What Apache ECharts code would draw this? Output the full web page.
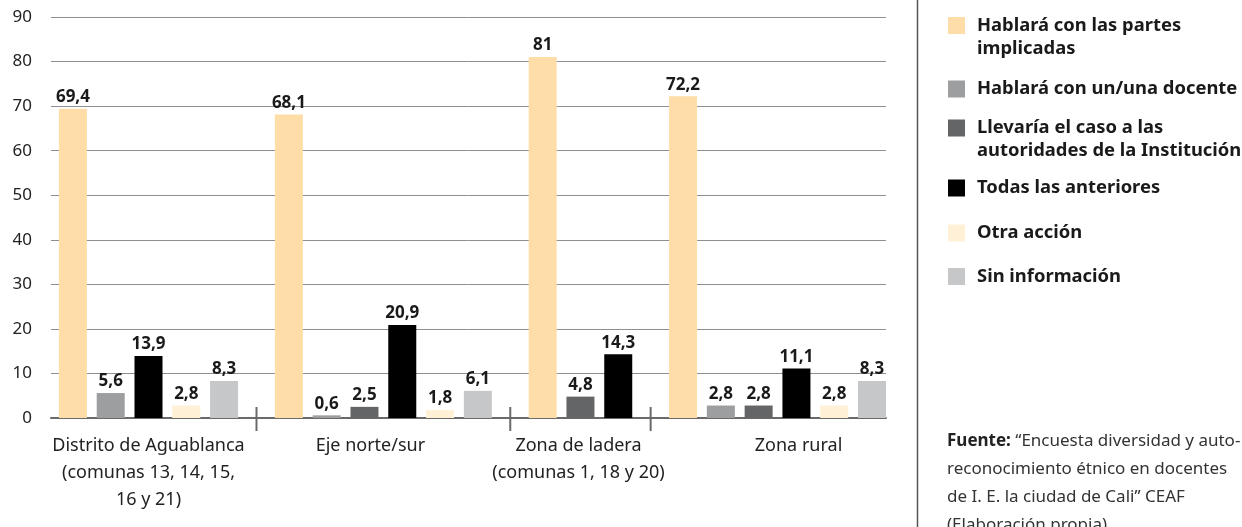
<!DOCTYPE html>
<html><head><meta charset="utf-8">
<script src="https://cdn.jsdelivr.net/npm/echarts@6/dist/echarts.min.js"></script>
<style>html,body{margin:0;padding:0;background:#fff}#c{width:1242px;height:527px}</style>
</head><body><div id="c"></div>
<script>
// ---- data ----
const categories = ['Distrito de Aguablanca\n(comunas 13, 14, 15,\n16 y 21)', 'Eje norte/sur', 'Zona de ladera\n(comunas 1, 18 y 20)', 'Zona rural'];
const seriesNames = ['Hablará con las partes implicadas', 'Hablará con un/una docente', 'Llevaría el caso a las autoridades de la Institución', 'Todas las anteriores', 'Otra acción', 'Sin información'];
const legendLabels = ['Hablará con las partes\nimplicadas', 'Hablará con un/una docente', 'Llevaría el caso a las\nautoridades de la Institución', 'Todas las anteriores', 'Otra acción', 'Sin información'];
const hablaraPartes   = [69.4, 68.1, 81, 72.2];
const hablaraDocente  = [5.6, 0.6, null, 2.8];
const llevariaCaso    = [null, 2.5, 4.8, 2.8];
const todasAnteriores = [13.9, 20.9, 14.3, 11.1];
const otraAccion      = [2.8, 1.8, null, 2.8];
const sinInformacion  = [8.3, 6.1, null, 8.3];
const yMin = 0, yMax = 90, yStep = 10;
const sourceText = '{b|Fuente:} “Encuesta diversidad y auto-\nreconocimiento étnico en docentes\nde I. E. la ciudad de Cali” CEAF\n(Elaboración propia)';

// ---- styles / layout ----
const colors = ['#FEDDA8', '#9D9EA0', '#646567', '#000000', '#FFF0D6', '#C6C7C9'];
const FONT = 'Noto Sans';
const allSeries = [hablaraPartes, hablaraDocente, llevariaCaso, todasAnteriores, otraAccion, sinInformacion];
const GROUP_GAP = 1.715;             // slot distance between last bar of a group and first bar of next
const labelShiftPx = [0, -13, -2, 21];
const legendTops = [14, 77.5, 116.5, 176.5, 221.5, 265];
const twoLine = [true, false, true, false, false, false];

// compute slot positions from data (skipping missing values)
const seriesData = allSeries.map(() => []);
const groupRanges = [];
let pos = 0;
categories.forEach((c, g) => {
  let first = null, last = null;
  allSeries.forEach((arr, s) => {
    const v = arr[g];
    if (v !== null && v !== undefined) {
      seriesData[s].push([pos, v]);
      if (first === null) first = pos;
      last = pos;
      pos += 1;
    }
  });
  groupRanges.push([first, last]);
  pos = last + GROUP_GAP;
});
const separators = [];
for (let g = 0; g < groupRanges.length - 1; g++) {
  separators.push([(groupRanges[g][1] + groupRanges[g + 1][0]) / 2, 0]);
}
const groupCenters = groupRanges.map((r, g) => [(r[0] + r[1]) / 2, 0, g]);
const lastPos = groupRanges[groupRanges.length - 1][1];

const fmt = v => String(v).replace('.', ',');

const barSeries = seriesNames.map((name, i) => ({
  name, type: 'bar', data: seriesData[i], barWidth: 28, barGap: '-100%',
  itemStyle: { color: colors[i] },
  label: { show: true, position: 'top', distance: 3, formatter: p => fmt(p.value[1]),
           fontFamily: FONT, fontWeight: 'bold', fontSize: 17, color: '#1a1a1a' },
  z: 3
}));

const pathIcon2 = 'path://M0,0h17v17h-17z M0,39.95h0.05v0.05h-0.05z';

const option = {
  animation: false,
  grid: { left: 51, right: 356, top: 17, bottom: 109, containLabel: false },
  xAxis: {
    type: 'value', min: -0.58, max: lastPos + 0.37,
    axisLine: { show: true, onZero: true, lineStyle: { color: '#6a6a6a', width: 2 } },
    axisTick: { show: false }, axisLabel: { show: false }, splitLine: { show: false }
  },
  yAxis: {
    type: 'value', min: yMin, max: yMax, interval: yStep,
    axisLine: { show: false }, axisTick: { show: false },
    axisLabel: { margin: 19, fontFamily: FONT, fontSize: 17, color: '#222' },
    splitLine: { lineStyle: { color: '#8f8f8f', width: 1 } }
  },
  legend: seriesNames.map((n, i) => ({
    data: [n], left: 948, top: legendTops[i], orient: 'vertical', padding: 0,
    itemWidth: 17, itemHeight: twoLine[i] ? 40 : 17,
    icon: twoLine[i] ? pathIcon2 : 'rect', symbolKeepAspect: false,
    selectedMode: false,
    formatter: name => legendLabels[seriesNames.indexOf(name)],
    textStyle: { fontFamily: FONT, fontWeight: 'bold', fontSize: 18.4, lineHeight: 23, color: '#1a1a1a', padding: [0, 0, 0, 7] }
  })),
  graphic: [
    { type: 'line', shape: { x1: 917.5, y1: 0, x2: 917.5, y2: 527 }, style: { stroke: '#555', lineWidth: 1.5 } },
    { type: 'text', left: 947, top: 427,
      style: { text: sourceText, fontFamily: FONT, fontSize: 17, lineHeight: 28, fill: '#333',
               rich: { b: { fontWeight: 'bold', fontFamily: FONT, fontSize: 17, lineHeight: 28, fill: '#222' } } } }
  ],
  series: barSeries.concat([
    {
      type: 'custom', clip: false, silent: true, z: 5,
      data: separators,
      renderItem: (params, api) => {
        const p = api.coord([api.value(0), 0]);
        return { type: 'line', shape: { x1: p[0], y1: p[1] - 11, x2: p[0], y2: p[1] + 13 },
                 style: { stroke: '#6a6a6a', lineWidth: 2 } };
      }
    },
    {
      type: 'custom', clip: false, silent: true, z: 5,
      data: groupCenters,
      renderItem: (params, api) => {
        const g = api.value(2);
        const p = api.coord([api.value(0), 0]);
        return { type: 'text', x: p[0] + labelShiftPx[g], y: p[1] + 14,
                 style: { text: categories[g], fill: '#222', fontFamily: FONT, fontSize: 18,
                          lineHeight: 27, align: 'center', verticalAlign: 'top' } };
      }
    }
  ])
};

const chart = echarts.init(document.getElementById('c'), null, { renderer: 'canvas' });
chart.setOption(option);
</script>
</body></html>
